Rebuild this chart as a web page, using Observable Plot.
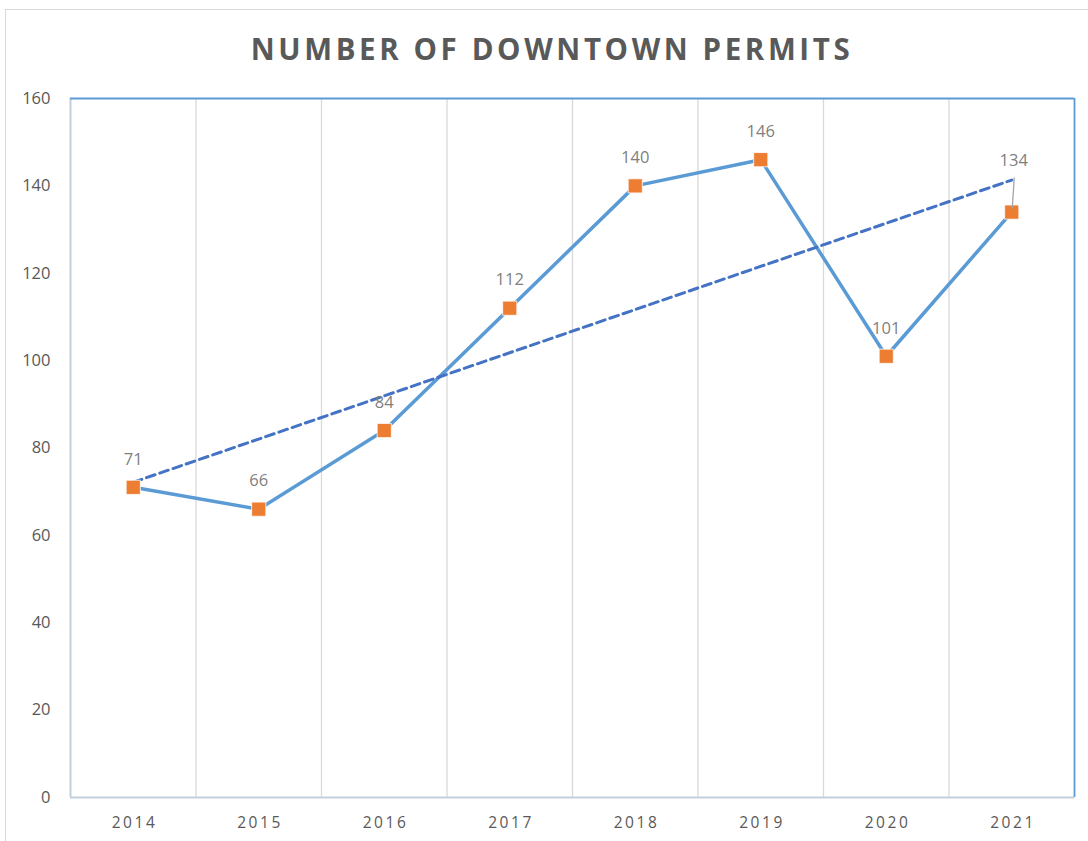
<!DOCTYPE html>
<html>
<head>
<meta charset="utf-8">
<script src="https://cdn.jsdelivr.net/npm/d3@7"></script>
<script src="https://cdn.jsdelivr.net/npm/@observablehq/plot@0.6"></script>
<style>
  html, body { margin: 0; padding: 0; background: #fff; width: 1088px; height: 841px; overflow: hidden; }
  #frame { position: absolute; left: 5px; top: 9px; width: 1200px; height: 1000px; border: 1px solid #d9d9d9; box-sizing: border-box; }
  #title { position: absolute; left: 0; top: 28px; width: 1104px; text-align: center; font-family: "Open Sans", sans-serif; font-weight: 700; font-size: 29.5px; line-height: 42px; letter-spacing: 3.6px; color: #595959; }
  #chart { position: absolute; left: 0; top: 80px; }
  #chart svg { overflow: visible; }
  g[aria-label="x-axis tick label"] text { letter-spacing: 2.6px; }
</style>
</head>
<body>
<div id="frame"></div>
<div id="title">NUMBER OF DOWNTOWN PERMITS</div>
<div id="chart"></div>
<script>
const years = [2014, 2015, 2016, 2017, 2018, 2019, 2020, 2021];
const permits = [71, 66, 84, 112, 140, 146, 101, 134];
const yTicks = [0, 20, 40, 60, 80, 100, 120, 140, 160];

const data = years.map((y, i) => ({year: y, value: permits[i]}));
const bounds = years.slice(0, -1).map(y => y + 0.5);
const xMin = years[0] - 0.5, xMax = years[years.length - 1] + 0.5;
const last = data[data.length - 1];

const plot = Plot.plot({
  width: 1088,
  height: 761,
  marginTop: 18,
  marginBottom: 44,
  marginLeft: 70,
  marginRight: 14,
  style: {fontFamily: "'Open Sans', sans-serif", background: "transparent", overflow: "visible"},
  x: {type: "linear", domain: [xMin, xMax], label: null},
  y: {domain: [0, 160], label: null},
  marks: [
    Plot.ruleX(bounds, {stroke: "#d9d9d9", strokeWidth: 1.3}),
    Plot.ruleY([0], {stroke: "#c3cfdb", strokeWidth: 2}),
    Plot.ruleX([xMin], {stroke: "#c3cfdb", strokeWidth: 2}),
    Plot.ruleY([160], {stroke: "#5b9bd5", strokeWidth: 1.8}),
    Plot.ruleX([xMax], {stroke: "#5b9bd5", strokeWidth: 1.8}),
    Plot.axisY({ticks: yTicks, tickSize: 0, tickPadding: 20, fontSize: 16.5, fill: "#595959", label: null}),
    Plot.axisX({ticks: years, tickFormat: d => String(d), tickSize: 0, tickPadding: 19, fontSize: 15.5, fill: "#595959", label: null, dx: 1.3}),
    Plot.line(data, {x: "year", y: "value", stroke: "#5b9bd5", strokeWidth: 3.5}),
    Plot.linearRegressionY(data, {x: "year", y: "value", ci: 0, stroke: "#4472c4", strokeWidth: 3, strokeDasharray: "9,5"}),
    Plot.dot(data, {x: "year", y: "value", symbol: "square", r: 8, fill: "#ed7d31", stroke: "white", strokeWidth: 0.8}),
    Plot.text(data.filter(d => d !== last), {x: "year", y: "value", text: d => String(d.value), dy: -28, fontSize: 16.5, fill: "#7f7f7f"}),
    Plot.text([last], {x: "year", y: "value", text: d => String(d.value), dy: -51, dx: 2, fontSize: 16.5, fill: "#7f7f7f"})
  ]
});
document.getElementById("chart").appendChild(plot);

// leader line for the 2021 label, drawn in scale coordinates
const sx = plot.scale("x"), sy = plot.scale("y");
d3.select(plot).append("line")
  .attr("x1", sx.apply(last.year) + 3).attr("y1", sy.apply(last.value) - 34)
  .attr("x2", sx.apply(last.year) + 1).attr("y2", sy.apply(last.value) - 3)
  .attr("stroke", "#a6a6a6").attr("stroke-width", 1.3);
</script>
</body>
</html>
